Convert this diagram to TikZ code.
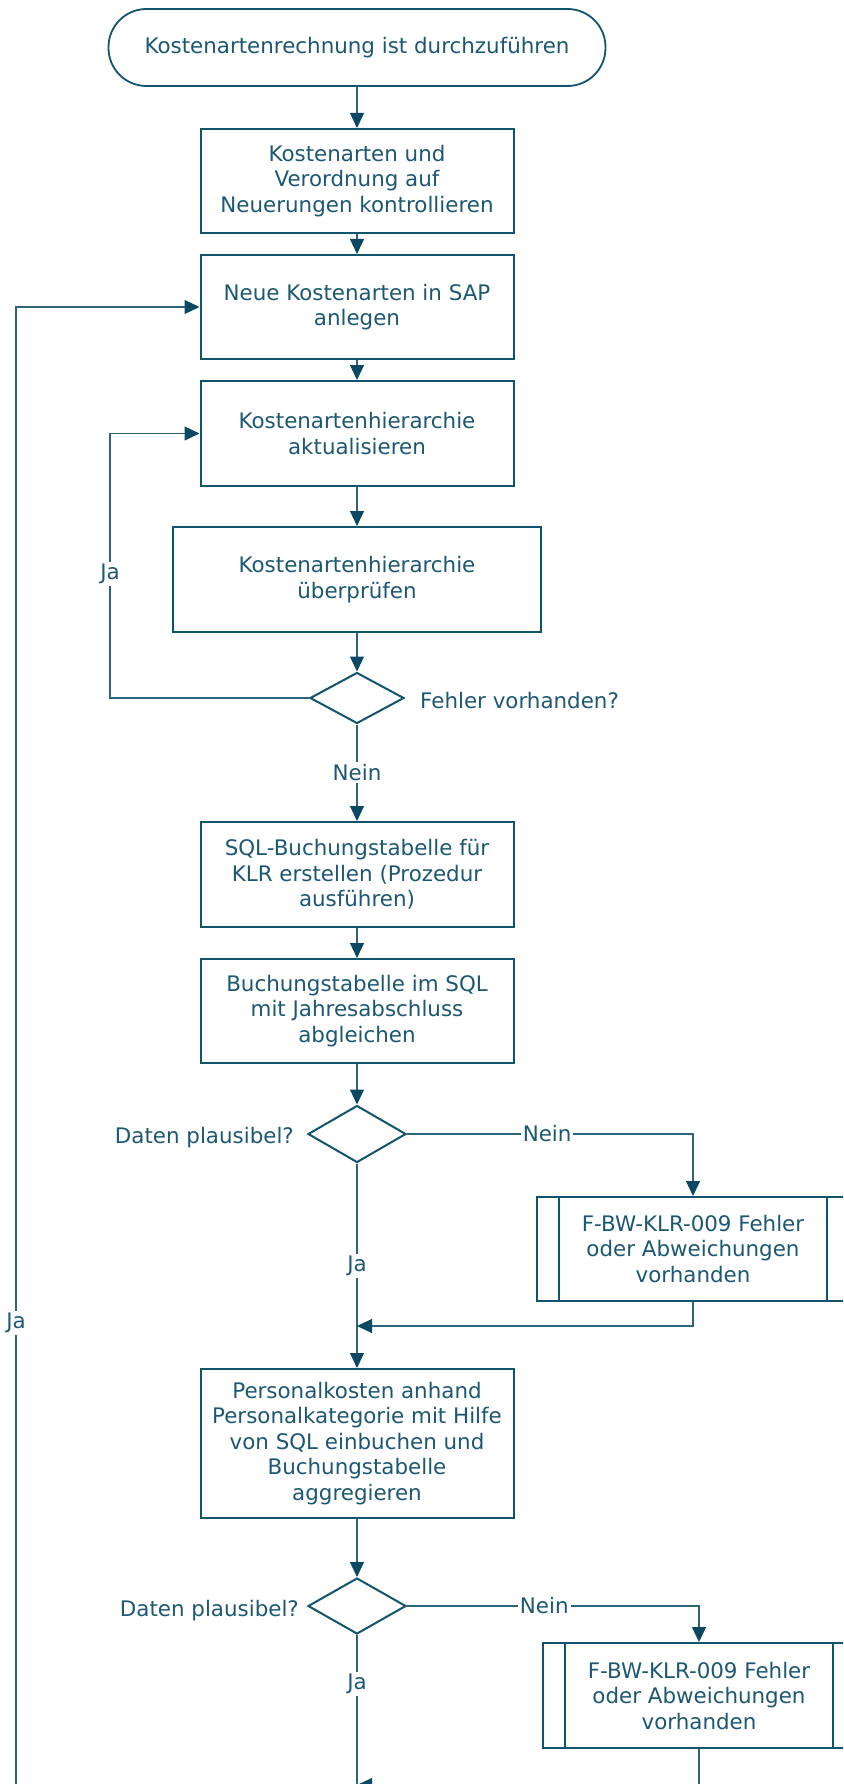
\documentclass[tikz,border=0pt]{standalone}
\usepackage{fontspec}
\setmainfont{DejaVu Sans}
\usetikzlibrary{shapes.geometric,arrows.meta}
\definecolor{bord}{HTML}{11546E}
\definecolor{tipc}{HTML}{0B4862}
\definecolor{connc}{HTML}{2E6479}
\definecolor{txt}{HTML}{1D5873}
\begin{document}
\begin{tikzpicture}[x=1pt,y=-1pt,
  every node/.style={font=\fontsize{21.4}{25.5}\selectfont, text=txt},
  term/.style={draw=bord, line width=1.8pt, fill=white, rounded corners=38pt, minimum width=497pt, minimum height=77pt, inner sep=0pt},
  proc/.style={draw=bord, line width=2pt, fill=white, align=center, inner sep=0pt, minimum width=313pt, minimum height=104pt},
  subp/.style={proc, minimum width=312pt},
  dec/.style={diamond, draw=bord, line width=2pt, fill=white, inner sep=0pt, minimum width=98pt, minimum height=57pt},
  conn/.style={draw=connc, line width=1.2pt},
  arr/.style={conn, -{Triangle[length=15pt,width=14pt,color=tipc]}},
  lbl/.style={fill=white, inner sep=2pt},
  qlbl/.style={inner sep=0pt}
]
\path[use as bounding box] (0,0) rectangle (843,1784);
\clip (0,0) rectangle (843,1784);

% nodes
\node[term] (start) at (357,47.5) {Kostenartenrechnung ist durchzuführen};
\node[proc] (b1) at (357,181) {Kostenarten und\\Verordnung auf\\Neuerungen kontrollieren};
\node[proc] (b2) at (357,307) {Neue Kostenarten in SAP\\anlegen};
\node[proc, minimum height=105pt] (b3) at (357,433.5) {Kostenartenhierarchie\\aktualisieren};
\node[proc, minimum width=368pt, minimum height=105pt] (b4) at (357,579.5) {Kostenartenhierarchie\\überprüfen};
\node[dec, minimum width=94pt, minimum height=51pt] (d1) at (357,698) {};
\node[qlbl, anchor=west] (q1) at (420,701) {Fehler vorhanden?};
\node[proc, minimum height=105pt] (b5) at (357,874.5) {SQL-Buchungstabelle für\\KLR erstellen (Prozedur\\ausführen)};
\node[proc] (b6) at (357,1011) {Buchungstabelle im SQL\\mit Jahresabschluss\\abgleichen};
\node[dec] (d2) at (357,1134) {};
\node[qlbl, anchor=east] (q2) at (294,1138) {Daten plausibel?};
\node[subp] (s1) at (693,1249) {F-BW-KLR-009 Fehler\\oder Abweichungen\\vorhanden};
\draw[bord, line width=2pt] ([xshift=23pt]s1.north west) -- ([xshift=23pt]s1.south west)
  ([xshift=-23pt]s1.north east) -- ([xshift=-23pt]s1.south east);
\node[proc, minimum height=149pt] (b7) at (357,1443.5) {Personalkosten anhand\\Personalkategorie mit Hilfe\\von SQL einbuchen und\\Buchungstabelle\\aggregieren};
\node[dec, minimum height=56pt] (d3) at (357,1606) {};
\node[qlbl, anchor=east] (q3) at (299,1611) {Daten plausibel?};
\node[subp, minimum height=105pt] (s2) at (699,1695.5) {F-BW-KLR-009 Fehler\\oder Abweichungen\\vorhanden};
\draw[bord, line width=2pt] ([xshift=23pt]s2.north west) -- ([xshift=23pt]s2.south west)
  ([xshift=-23pt]s2.north east) -- ([xshift=-23pt]s2.south east);

% coordinates
\coordinate (jl) at (110,698);
\coordinate (jlt) at (110,433.5);
\coordinate (j1) at (357,1326);
\coordinate (j2) at (357,1785);
\coordinate (bot) at (357,1800);
\coordinate (lb) at (16,1800);
\coordinate (lt) at (16,307);

% connectors
\draw[arr] (start) -- (b1);
\draw[arr] (b1) -- (b2);
\draw[arr] (b2) -- (b3);
\draw[arr] (b3) -- (b4);
\draw[arr] (b4) -- (d1);
\draw[arr] (d1.west) -- (jl) -- node[lbl, pos=0.47] {Ja} (jlt) -- (b3.west);
\draw[arr] (d1.south) -- node[lbl] {Nein} (b5.north);
\draw[arr] (b5) -- (b6);
\draw[arr] (b6) -- (d2);
\draw[arr] (d2.east) -- node[lbl, pos=0.49] {Nein} (s1.north |- d2.east) -- (s1.north);
\draw[arr] (d2.south) -- node[lbl] {Ja} (b7.north);
\draw[arr] (s1.south) -- (s1.south |- j1) -- (j1);
\draw[arr] (b7) -- (d3);
\draw[arr] (d3.east) -- node[lbl, pos=0.47] {Nein} (s2.north |- d3.east) -- (s2.north);
\draw[conn] (d3.south) -- node[lbl, pos=0.295] {Ja} (bot);
\draw[arr] (s2.south) -- (s2.south |- j2) -- (j2);
\draw[arr] (lb) -- node[lbl, pos=0.3195] {Ja} (lt) -- (b2.west);
\end{tikzpicture}
\end{document}
